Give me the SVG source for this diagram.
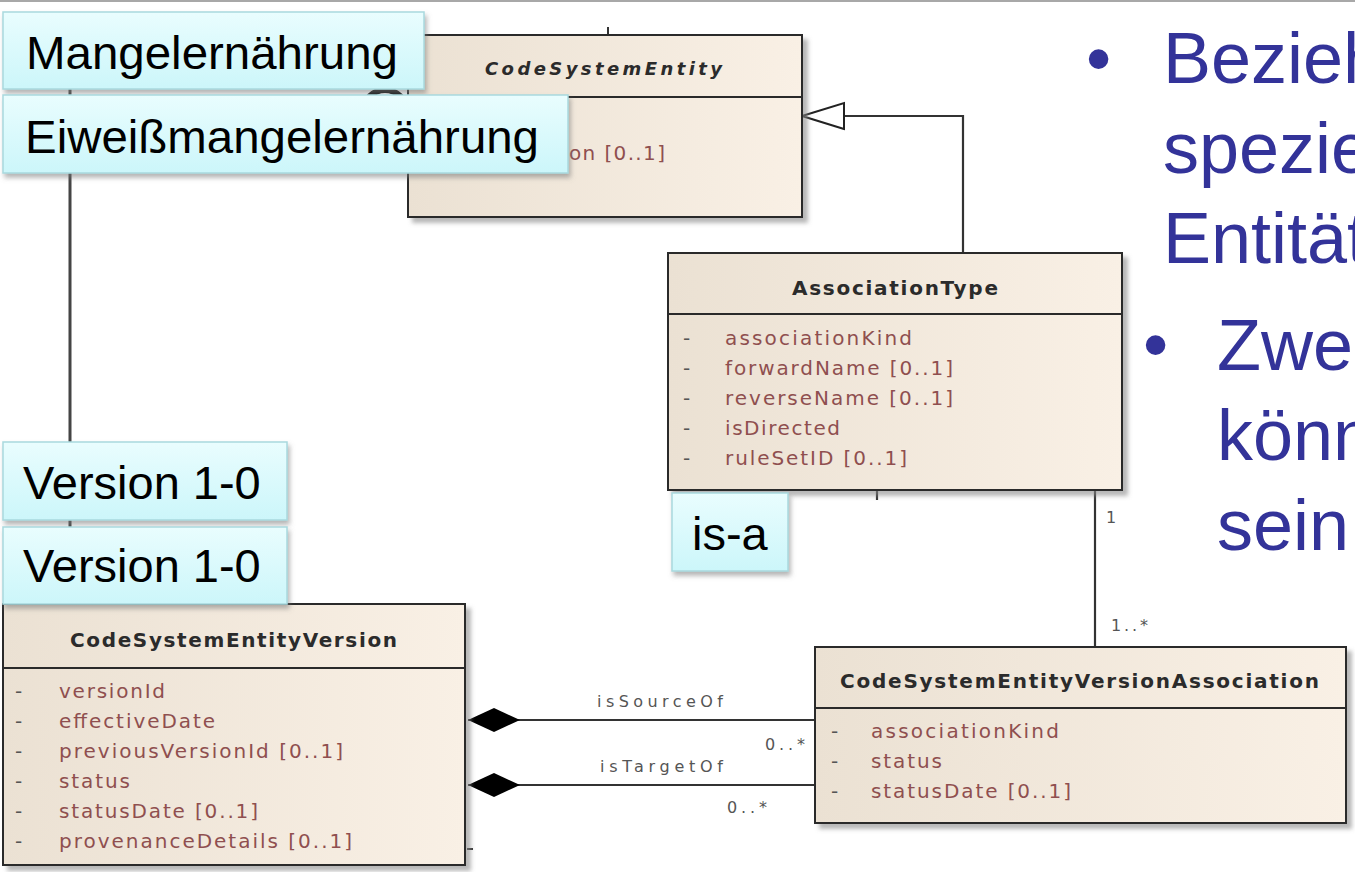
<svg xmlns="http://www.w3.org/2000/svg" width="1355" height="872" viewBox="0 0 1355 872">
<style>
.box{fill:url(#uml);stroke:#2a2a2a;stroke-width:2;filter:url(#sh)}
.sep{stroke:#2a2a2a;stroke-width:2}
.ttl{font-family:"DejaVu Sans",sans-serif;font-weight:bold;font-size:20px;fill:#2b2b2b}
.attr{font-family:"DejaVu Sans",sans-serif;font-size:20px;fill:#8f4f4f}
.dash{font-family:"DejaVu Sans",sans-serif;font-size:20px;fill:#555}
.lbox{fill:url(#cyan);stroke:#a9d9de;stroke-width:1.5;filter:url(#lsh)}
.lbl{font-family:"Liberation Sans",Arial,sans-serif;font-size:47px;fill:#000}
.conn{stroke:#333;stroke-width:2.2;fill:none}
.mult{font-family:"DejaVu Sans",sans-serif;font-size:16px;fill:#555}
.bt{font-family:"Liberation Sans",Arial,sans-serif;font-size:72px;fill:#333399}
</style>
<defs>
<linearGradient id="uml" x1="0" y1="0" x2="1" y2="0">
<stop offset="0" stop-color="#ebe1d3"/><stop offset="1" stop-color="#f9f0e5"/>
</linearGradient>
<linearGradient id="cyan" x1="0" y1="0" x2="0" y2="1">
<stop offset="0" stop-color="#e9fdfe"/><stop offset="1" stop-color="#ccf6fa"/>
</linearGradient>
<filter id="sh" x="-5%" y="-5%" width="115%" height="115%">
<feDropShadow dx="5" dy="5" stdDeviation="2" flood-color="#888" flood-opacity="0.6"/>
</filter>
<filter id="lsh" x="-5%" y="-10%" width="115%" height="130%">
<feDropShadow dx="2" dy="4" stdDeviation="2.5" flood-color="#777" flood-opacity="0.55"/>
</filter>
<marker id="dia" markerUnits="userSpaceOnUse" markerWidth="54" markerHeight="26" refX="0" refY="12" orient="auto" viewBox="0 0 54 26">
<path d="M0,12 L26,0 L52,12 L26,24 Z" fill="#000"/>
</marker>
<marker id="tri" markerUnits="userSpaceOnUse" markerWidth="46" markerHeight="30" refX="42" refY="13" orient="auto" viewBox="-2 -2 46 30">
<path d="M0,0 L42,13 L0,26 Z" fill="#fff" stroke="#222" stroke-width="2"/>
</marker>
<clipPath id="page"><rect x="0" y="0" width="1355" height="872"/></clipPath>
</defs>
<rect x="0" y="0" width="1355" height="872" fill="#fff"/>
<line x1="0" y1="1" x2="1355" y2="1" stroke="#a8a8a8" stroke-width="2"/>

<g id="connectors">
<line x1="70" y1="20" x2="70" y2="604" stroke="#444" stroke-width="3"/>
<circle cx="385" cy="112" r="22" fill="none" stroke="#111" stroke-width="6"/>
<line x1="608" y1="27" x2="608" y2="35" stroke="#333" stroke-width="2"/>
<path class="conn" d="M963,253 L963,116 L802,116" marker-end="url(#tri)"/>
<line class="conn" x1="1095" y1="490" x2="1095" y2="647"/>
<line class="conn" x1="877" y1="490" x2="877" y2="500"/>
<line class="conn" x1="468" y1="720" x2="815" y2="720" marker-start="url(#dia)"/>
<line class="conn" x1="468" y1="785" x2="815" y2="785" marker-start="url(#dia)"/>
<line x1="467" y1="849" x2="473" y2="849" stroke="#333" stroke-width="2"/>
<text class="mult" x="1106" y="523">1</text>
<text class="mult" x="1111" y="631" textLength="37" lengthAdjust="spacing">1..*</text>
<text class="mult" x="597" y="707" textLength="126" lengthAdjust="spacing">isSourceOf</text>
<text class="mult" x="765" y="750" textLength="40" lengthAdjust="spacing">0..*</text>
<text class="mult" x="600" y="772" textLength="123" lengthAdjust="spacing">isTargetOf</text>
<text class="mult" x="727" y="813" textLength="40" lengthAdjust="spacing">0..*</text>
</g>

<g id="CodeSystemEntity">
<rect class="box" x="408" y="35" width="394" height="182"/>
<line class="sep" x1="408" y1="97" x2="802" y2="97"/>
<text class="ttl" x="485" y="75" font-size="18" font-style="italic" style="font-size:18px" textLength="237" lengthAdjust="spacing">CodeSystemEntity</text>
<text class="attr" x="569" y="160" textLength="96" lengthAdjust="spacing">on [0..1]</text>
</g>

<g id="AssociationType">
<rect class="box" x="668" y="253" width="454" height="237"/>
<line class="sep" x1="668" y1="314" x2="1122" y2="314"/>
<text class="ttl" x="792" y="295" textLength="206" lengthAdjust="spacing">AssociationType</text>
<text class="dash" x="683" y="345">-</text>
<text class="dash" x="683" y="375">-</text>
<text class="dash" x="683" y="405">-</text>
<text class="dash" x="683" y="435">-</text>
<text class="dash" x="683" y="465">-</text>
<text class="attr" x="725" y="345" textLength="187" lengthAdjust="spacing">associationKind</text>
<text class="attr" x="725" y="375" textLength="228" lengthAdjust="spacing">forwardName [0..1]</text>
<text class="attr" x="725" y="405" textLength="228" lengthAdjust="spacing">reverseName [0..1]</text>
<text class="attr" x="725" y="435" textLength="115" lengthAdjust="spacing">isDirected</text>
<text class="attr" x="725" y="465" textLength="182" lengthAdjust="spacing">ruleSetID [0..1]</text>
</g>

<g id="CodeSystemEntityVersion">
<rect class="box" x="3" y="604" width="462" height="261"/>
<line class="sep" x1="3" y1="668" x2="465" y2="668"/>
<text class="ttl" x="70" y="647" textLength="327" lengthAdjust="spacing">CodeSystemEntityVersion</text>
<text class="dash" x="15" y="698">-</text>
<text class="dash" x="15" y="728">-</text>
<text class="dash" x="15" y="758">-</text>
<text class="dash" x="15" y="788">-</text>
<text class="dash" x="15" y="818">-</text>
<text class="dash" x="15" y="848">-</text>
<text class="attr" x="59" y="698" textLength="106" lengthAdjust="spacing">versionId</text>
<text class="attr" x="59" y="728" textLength="156" lengthAdjust="spacing">effectiveDate</text>
<text class="attr" x="59" y="758" textLength="284" lengthAdjust="spacing">previousVersionId [0..1]</text>
<text class="attr" x="59" y="788" textLength="71" lengthAdjust="spacing">status</text>
<text class="attr" x="59" y="818" textLength="199" lengthAdjust="spacing">statusDate [0..1]</text>
<text class="attr" x="59" y="848" textLength="293" lengthAdjust="spacing">provenanceDetails [0..1]</text>
</g>

<g id="CodeSystemEntityVersionAssociation">
<rect class="box" x="815" y="647" width="531" height="176"/>
<line class="sep" x1="815" y1="708" x2="1346" y2="708"/>
<text class="ttl" x="840" y="688" textLength="479" lengthAdjust="spacing">CodeSystemEntityVersionAssociation</text>
<text class="dash" x="831" y="738">-</text>
<text class="dash" x="831" y="768">-</text>
<text class="dash" x="831" y="798">-</text>
<text class="attr" x="871" y="738" textLength="188" lengthAdjust="spacing">associationKind</text>
<text class="attr" x="871" y="768" textLength="71" lengthAdjust="spacing">status</text>
<text class="attr" x="871" y="798" textLength="200" lengthAdjust="spacing">statusDate [0..1]</text>
</g>

<g id="label-mangel">
<rect class="lbox" x="3" y="12" width="421" height="77"/>
<text class="lbl" x="26" y="69" textLength="372" lengthAdjust="spacingAndGlyphs">Mangelernährung</text>
</g>
<g id="label-eiweiss">
<rect class="lbox" x="3" y="95" width="565" height="78"/>
<text class="lbl" x="25" y="153" textLength="514" lengthAdjust="spacingAndGlyphs">Eiweißmangelernährung</text>
</g>
<g id="label-version1">
<rect class="lbox" x="3" y="442" width="284" height="78"/>
<text class="lbl" x="23" y="499">Version 1-0</text>
</g>
<g id="label-version2">
<rect class="lbox" x="3" y="527" width="284" height="77"/>
<text class="lbl" x="23" y="582">Version 1-0</text>
</g>
<g id="label-isa">
<rect class="lbox" x="672" y="493" width="116" height="78"/>
<text class="lbl" x="692" y="550">is-a</text>
</g>

<g id="bullets" clip-path="url(#page)">
<text class="bt" x="1086" y="83">•</text>
<text class="bt" x="1163" y="83">Bezieh</text>
<text class="bt" x="1163" y="173">spezie</text>
<text class="bt" x="1163" y="263">Entität</text>
<text class="bt" x="1143" y="369">•</text>
<text class="bt" x="1217" y="370">Zwe</text>
<text class="bt" x="1217" y="460">könn</text>
<text class="bt" x="1217" y="550">sein</text>
</g>
</svg>
